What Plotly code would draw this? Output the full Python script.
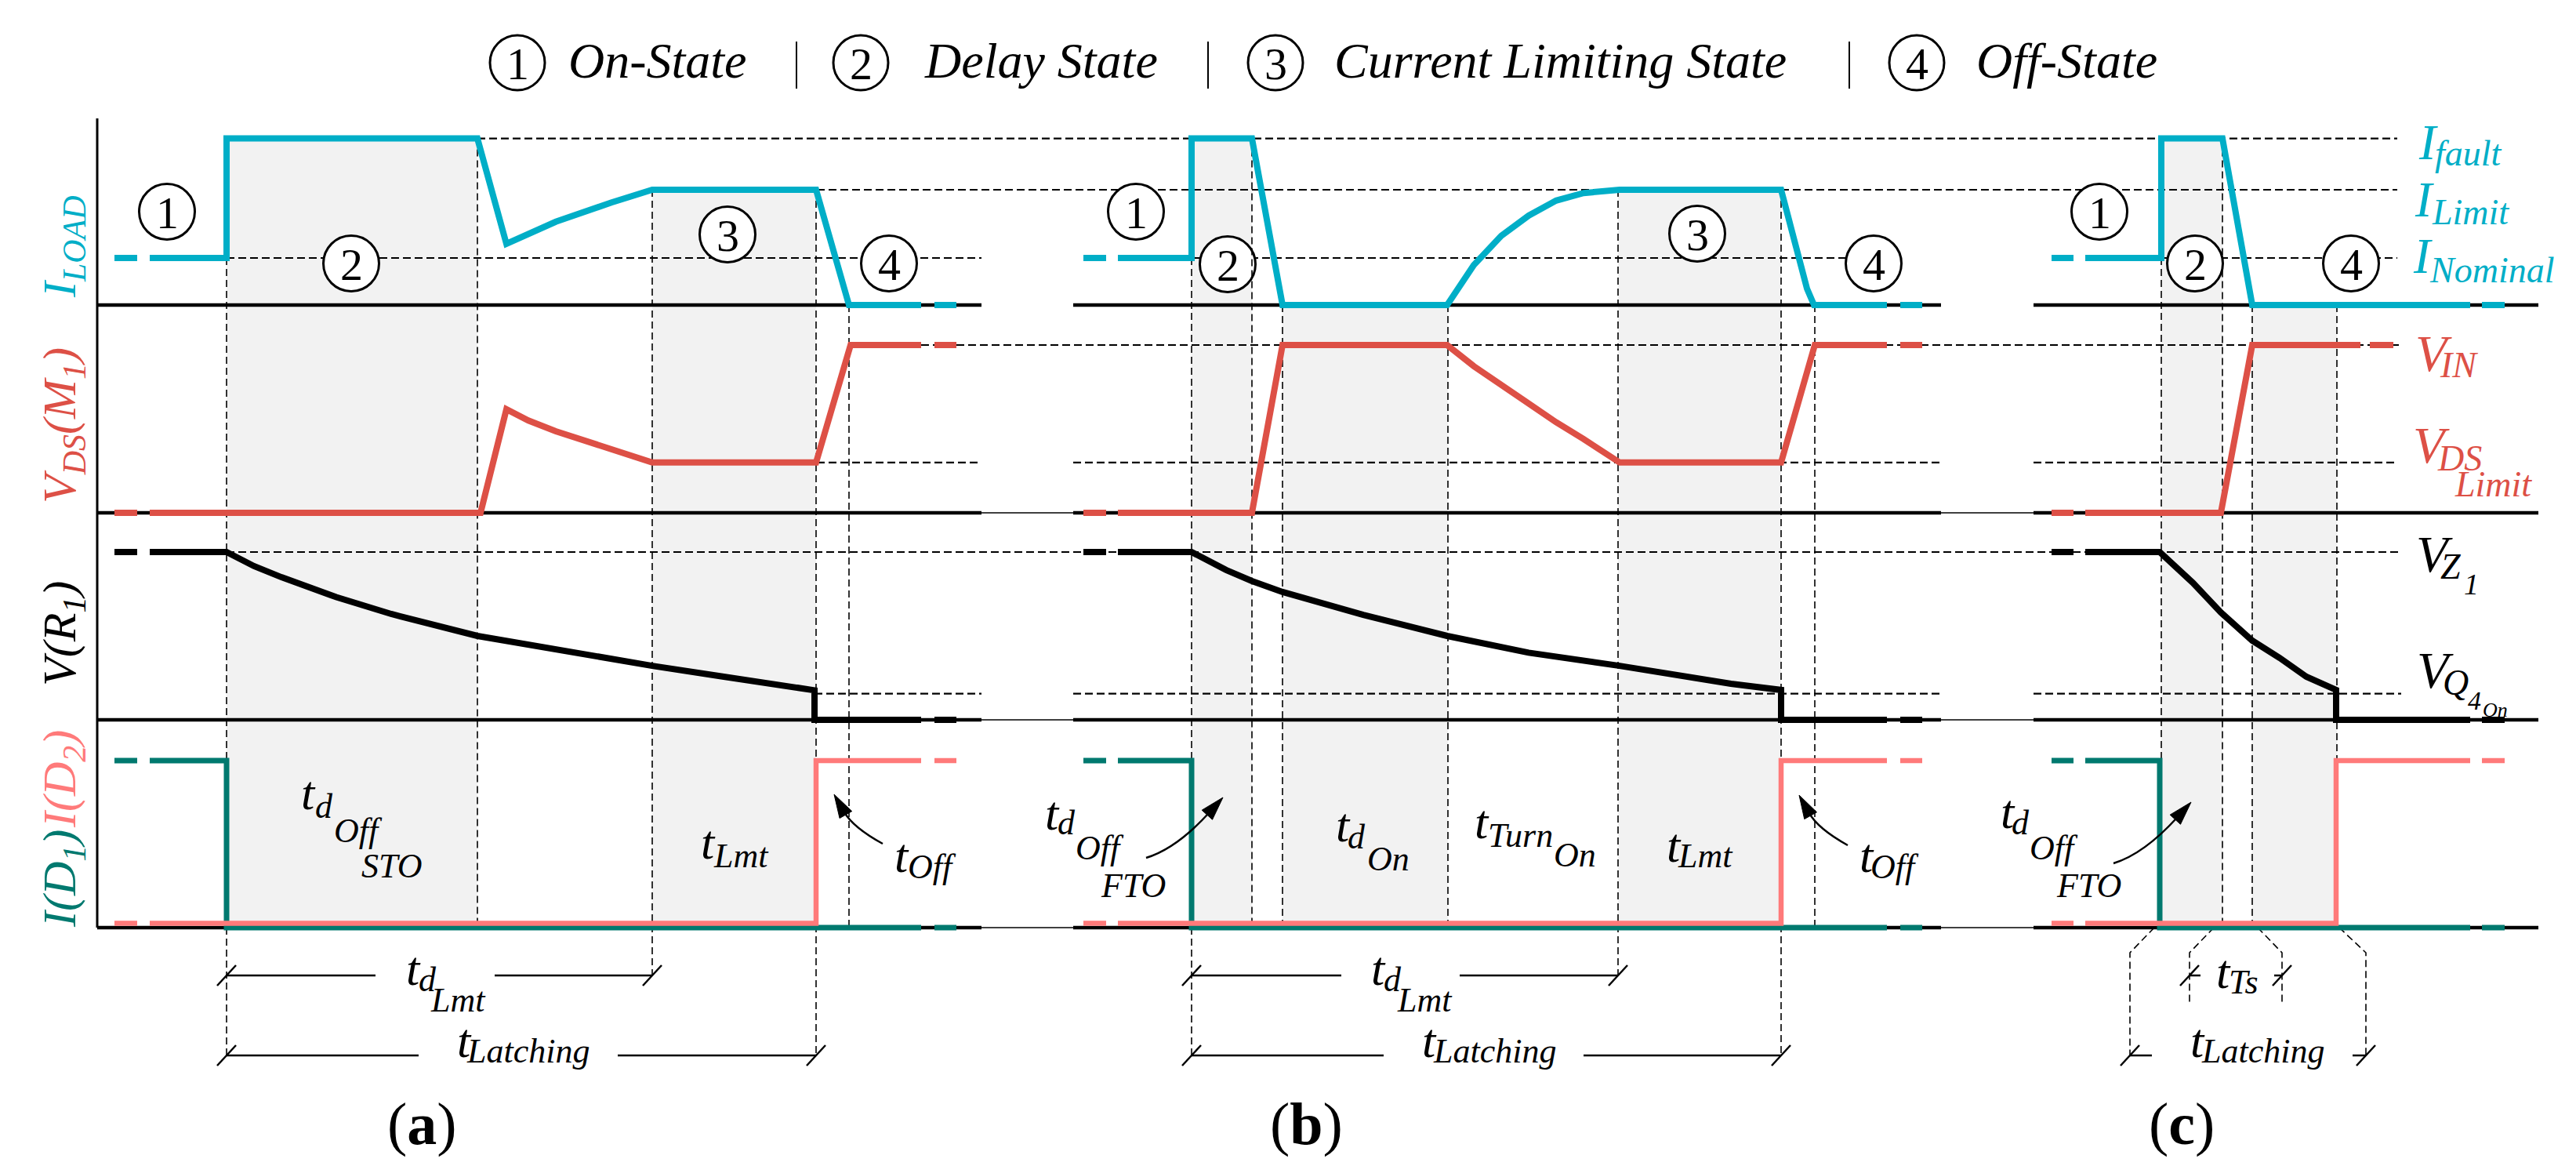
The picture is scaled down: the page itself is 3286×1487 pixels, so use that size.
import math
import plotly.graph_objects as go

# ---------------------------------------------------------------- data ----
# signal levels (normalised units, one scale per row)
I_NOMINAL = 1.0
I_LIMIT = 2.45
I_FAULT = 3.54
V_IN = 1.0
V_DS_LIMIT = 0.30
V_Z1 = 1.0
V_Q4_ON = 0.156
I_D_HIGH = 1.0
I_D2_LOW = 0.026

# event times (time axis units)
A_STEP, A_FALL, A_LIMIT, A_OFF, A_ZERO = 281, 601, 824, 1033, 1075
B_STEP, B_FALL, B_ZERO, B_TURNON, B_LIMIT, B_OFF, B_ZERO2 = 1512, 1589, 1628, 1839, 2056, 2264, 2307
C_STEP, C_FALL, C_ZERO, C_OFF = 2749, 2827, 2865, 2973

# I_LOAD
ILOAD_A_T = [138, 167, None, 183, 281, 281, 601, 638, 670, 701, 772, 824, 1033, 1052, 1066, 1075, 1167, None, 1184, 1212]
ILOAD_A_V = [1, 1, None, 1, 1, 3.54, 3.54, 1.30, 1.55, 1.77, 2.18, 2.45, 2.45, 1.35, 0.52, 0, 0, None, 0, 0]
ILOAD_B_T = [1374, 1403, None, 1418, 1512, 1512, 1589, 1628, 1838, 1872, 1907, 1942, 1977, 2012, 2058, 2264, 2276, 2287, 2297, 2306, 2399, None, 2416, 2444]
ILOAD_B_V = [1, 1, None, 1, 1, 3.54, 3.54, 0, 0, 0.85, 1.47, 1.90, 2.22, 2.38, 2.45, 2.45, 1.73, 1.02, 0.35, 0, 0, None, 0, 0]
ILOAD_C_T = [2609, 2637, None, 2652, 2749, 2749, 2827, 2865, 3143, None, 3158, 3187]
ILOAD_C_V = [1, 1, None, 1, 1, 3.54, 3.54, 0, 0, None, 0, 0]

# V_DS(M1)
VDS_A_T = [138, 167, None, 183, 605, 638, 666, 701, 772, 824, 1033, 1077, 1167, None, 1184, 1212]
VDS_A_V = [0, 0, None, 0, 0, 0.617, 0.55, 0.486, 0.374, 0.30, 0.30, 1, 1, None, 1, 1]
VDS_B_T = [1374, 1403, None, 1418, 1589, 1628, 1838, 1872, 1907, 1942, 1977, 2012, 2058, 2264, 2307, 2399, None, 2416, 2444]
VDS_B_V = [0, 0, None, 0, 0, 1, 1, 0.874, 0.76, 0.65, 0.54, 0.44, 0.30, 0.30, 1, 1, None, 1, 1]
VDS_C_T = [2609, 2637, None, 2652, 2825, 2865, 3003, None, 3015, 3045]
VDS_C_V = [0, 0, None, 0, 0, 1, 1, None, 1, 1]

# V(R1)
VR1_A_T = [138, 167, None, 183, 281, 316, 351, 421, 491, 601, 701, 824, 912, 1031, 1031, 1167, None, 1184, 1212]
VR1_A_V = [1, 1, None, 1, 1, 0.916, 0.850, 0.731, 0.631, 0.500, 0.416, 0.322, 0.259, 0.176, 0, 0, None, 0, 0]
VR1_B_T = [1374, 1403, None, 1418, 1512, 1556, 1589, 1628, 1731, 1838, 1942, 2058, 2200, 2264, 2264, 2399, None, 2416, 2444]
VR1_B_V = [1, 1, None, 1, 1, 0.893, 0.827, 0.762, 0.626, 0.50, 0.40, 0.322, 0.215, 0.178, 0, 0, None, 0, 0]
VR1_C_T = [2609, 2637, None, 2652, 2747, 2789, 2825, 2865, 2900, 2934, 2972, 2972, 3143, None, 3158, 3187]
VR1_C_V = [1, 1, None, 1, 1, 0.818, 0.640, 0.472, 0.369, 0.257, 0.178, 0, 0, None, 0, 0]

# I(D1) and I(D2)
D1_A_T = [138, 167, None, 183, 281, 281, 1167, None, 1184, 1212]
D1_A_V = [1, 1, None, 1, 1, 0, 0, None, 0, 0]
D2_A_T = [138, 167, None, 183, 1033, 1033, 1167, None, 1184, 1212]
D2_A_V = [0.026, 0.026, None, 0.026, 0.026, 1, 1, None, 1, 1]
D1_B_T = [1374, 1403, None, 1418, 1512, 1512, 2399, None, 2416, 2444]
D1_B_V = [1, 1, None, 1, 1, 0, 0, None, 0, 0]
D2_B_T = [1374, 1403, None, 1418, 2264, 2264, 2399, None, 2416, 2444]
D2_B_V = [0.026, 0.026, None, 0.026, 0.026, 1, 1, None, 1, 1]
D1_C_T = [2609, 2637, None, 2652, 2747, 2747, 3143, None, 3158, 3187]
D1_C_V = [1, 1, None, 1, 1, 0, 0, None, 0, 0]
D2_C_T = [2609, 2637, None, 2652, 2972, 2972, 3143, None, 3158, 3187]
D2_C_V = [0.026, 0.026, None, 0.026, 0.026, 1, 1, None, 1, 1]

TITLE_ITEMS = ["On-State", "Delay State", "Current Limiting State", "Off-State"]
PANEL_LABELS = ["a", "b", "c"]

# ------------------------------------------------------------- layout ----
W, H = 3286, 1487
FONT = "Liberation Serif"
CYAN, RED, TEAL, PINK, SHADE = "#00AEC7", "#DD5046", "#00796F", "#FF7A7A", "#F2F2F2"
ROW_BASE = {1: 381, 2: 646, 3: 910, 4: 1175}
ROW_SCALE = {1: 60, 2: 214, 3: 214, 4: 213}


def px(row, v):
    return ROW_BASE[row] - v * ROW_SCALE[row]


def yname(row):
    return "y" if row == 1 else f"y{row}"


fig = go.Figure()


def add(t, v, row, color, width=8):
    fig.add_trace(go.Scatter(x=t, y=v, mode="lines", yaxis=yname(row),
                             line=dict(color=color, width=width),
                             hoverinfo="skip", showlegend=False))


for t, v in [(ILOAD_A_T, ILOAD_A_V), (ILOAD_B_T, ILOAD_B_V), (ILOAD_C_T, ILOAD_C_V)]:
    add(t, v, 1, CYAN)
for t, v in [(VDS_A_T, VDS_A_V), (VDS_B_T, VDS_B_V), (VDS_C_T, VDS_C_V)]:
    add(t, v, 2, RED)
for t, v in [(VR1_A_T, VR1_A_V), (VR1_B_T, VR1_B_V), (VR1_C_T, VR1_C_V)]:
    add(t, v, 3, "black")
for t, v in [(D1_A_T, D1_A_V), (D1_B_T, D1_B_V), (D1_C_T, D1_C_V)]:
    add(t, v, 4, TEAL, 7)
for t, v in [(D2_A_T, D2_A_V), (D2_B_T, D2_B_V), (D2_C_T, D2_C_V)]:
    add(t, v, 4, PINK, 6.5)
# invisible anchor for the layout (pixel) axis
fig.add_trace(go.Scatter(x=[0], y=[0], yaxis="y5", mode="markers",
                         marker=dict(opacity=0), hoverinfo="skip", showlegend=False))

shapes = []
ann = []


def line(x0, y0, x1, y1, width=2.5, color="black", dash=None, yref="y5", layer="below"):
    d = dict(type="line", x0=x0, y0=y0, x1=x1, y1=y1, xref="x", yref=yref, layer=layer,
             line=dict(color=color, width=width))
    if dash:
        d["line"]["dash"] = dash
    shapes.append(d)


# shading
ROW4_BOT = px(4, 0)
for x0, x1, lvl in [(A_STEP, A_FALL, I_FAULT), (A_LIMIT, A_OFF, I_LIMIT),
                    (B_STEP, B_FALL, I_FAULT), (B_ZERO, B_TURNON, 0), (B_LIMIT, B_OFF, I_LIMIT),
                    (C_STEP, C_FALL, I_FAULT), (C_ZERO, C_OFF, 0)]:
    shapes.append(dict(type="rect", x0=x0, x1=x1, y0=px(1, lvl), y1=ROW4_BOT, xref="x", yref="y5",
                       layer="below", fillcolor=SHADE, line=dict(width=0)))

# horizontal reference levels
REF = [(1, I_FAULT, [(601, 3050)]), (1, I_LIMIT, [(824, 3050)]),
       (1, I_NOMINAL, [(281, 1244), (1512, 2349), (2749, 3050)]),
       (2, V_IN, [(1077, 3054)]),
       (2, V_DS_LIMIT, [(824, 1244), (1361, 2468), (2586, 3048)]),
       (3, V_Z1, [(281, 3055)]),
       (3, V_Q4_ON, [(1031, 1244), (1361, 2468), (2586, 3055)])]
for row, lvl, segs in REF:
    for a, b in segs:
        line(a, lvl, b, lvl, width=2.2, dash="10px,5px", yref=yname(row))

# baselines and left axis
PANELS = [(116, 1244), (1361, 2468), (2586, 3230)]
for row in (2, 3, 4):
    line(116, ROW_BASE[row], 3230, ROW_BASE[row], width=1.5)
for row in (1, 2, 3, 4):
    for a, b in PANELS:
        line(a, ROW_BASE[row], b, ROW_BASE[row], width=4.5)
line(116, 143, 116, ROW4_BOT, width=3)


def circle(cx, cy, digit, r=35.5, size=58):
    shapes.append(dict(type="circle", x0=cx - r, x1=cx + r, y0=cy - r, y1=cy + r, xref="x", yref="y5",
                       layer="below", fillcolor="white", line=dict(color="black", width=3)))
    ann.append(dict(x=cx, y=cy + 1, xref="x", yref="y5", text=digit, showarrow=False,
                    xanchor="center", yanchor="middle", font=dict(family=FONT, size=size, color="black")))


for cx, cy, dg in [(205, 262, "1"), (440, 328, "2"), (920, 291, "3"), (1126, 328, "4"),
                   (1441, 262, "1"), (1558, 329, "2"), (2157, 290, "3"), (2382, 328, "4"),
                   (2670, 262, "1"), (2792, 328, "2"), (2991, 328, "4")]:
    circle(cx, cy, dg)

# vertical event guides
LATCH_Y, DLMT_Y = 1338, 1236
GUIDES = [(A_STEP, px(1, I_NOMINAL), LATCH_Y), (A_FALL, px(1, I_FAULT), ROW4_BOT),
          (A_LIMIT, px(1, I_LIMIT), DLMT_Y), (A_OFF, px(1, I_LIMIT), LATCH_Y), (A_ZERO, px(1, 0), ROW4_BOT),
          (B_STEP, px(1, I_NOMINAL), LATCH_Y), (B_FALL, px(1, I_FAULT), ROW4_BOT),
          (B_ZERO, px(1, 0), ROW4_BOT), (B_TURNON, px(1, 0), ROW4_BOT),
          (B_LIMIT, px(1, I_LIMIT), DLMT_Y), (B_OFF, px(1, I_LIMIT), LATCH_Y), (B_ZERO2, px(1, 0), ROW4_BOT),
          (C_STEP, px(1, I_NOMINAL), ROW4_BOT), (C_FALL, px(1, I_FAULT), ROW4_BOT),
          (C_ZERO, px(1, 0), ROW4_BOT), (C_OFF, px(1, 0), ROW4_BOT)]
for x, y0, y1 in GUIDES:
    line(x, y0, x, y1, width=1.6, dash="9px,5px")

# leaders in panel (c)
for pts in [[(2740, 1175), (2709, 1207), (2709, 1338)], [(2816, 1175), (2785, 1207), (2785, 1272)],
            [(2872, 1175), (2903, 1207), (2903, 1272)], [(2976, 1175), (3010, 1207), (3010, 1338)]]:
    path = "M " + " L ".join(f"{a},{b}" for a, b in pts)
    shapes.append(dict(type="path", path=path, xref="x", yref="y5", layer="below",
                       line=dict(color="black", width=1.6, dash="9px,5px")))


# dimension lines
def tick(x, y):
    line(x - 12, y + 13, x + 12, y - 13, width=2.5, layer="above")


for y, x0, x1, g0, g1 in [(DLMT_Y, 281, 824, 471, 623), (LATCH_Y, 281, 1033, 526, 780),
                          (DLMT_Y, 1512, 2056, 1703, 1854), (LATCH_Y, 1512, 2264, 1757, 2012),
                          (DLMT_Y, 2785, 2903, 2799, 2893), (LATCH_Y, 2709, 3010, 2737, 2993)]:
    line(x0, y, g0, y, width=2.5)
    line(g1, y, x1, y, width=2.5)
    tick(x0, y)
    tick(x1, y)


# curved arrows
def arrow(p0, c, p1, L=30, hw=9):
    dx, dy = p1[0] - c[0], p1[1] - c[1]
    n = math.hypot(dx, dy)
    ux, uy = dx / n, dy / n
    bx, by = p1[0] - ux * L, p1[1] - uy * L
    shapes.append(dict(type="path", path=f"M {p0[0]},{p0[1]} Q {c[0]},{c[1]} {bx + ux * 4},{by + uy * 4}",
                       xref="x", yref="y5", layer="above", line=dict(color="black", width=2.5)))
    tri = f"M {p1[0]},{p1[1]} L {bx - uy * hw},{by + ux * hw} L {bx + uy * hw},{by - ux * hw} Z"
    shapes.append(dict(type="path", path=tri, xref="x", yref="y5", layer="above",
                       fillcolor="black", line=dict(color="black", width=1)))


arrow((1118, 1068), (1080, 1047), (1056, 1005))
arrow((2349, 1070), (2311, 1049), (2287, 1006))
arrow((1454, 1086), (1493, 1074), (1552, 1009))
arrow((2688, 1093), (2727, 1081), (2787, 1015))


# text helper (placed by baseline)
def T(s, x, base, size, color="black", italic=True, anchor="left"):
    ann.append(dict(x=x, y=base - 0.34 * size, xref="x", yref="y5",
                    text=f"<i>{s}</i>" if italic else s, showarrow=False, xanchor=anchor,
                    yanchor="middle", borderpad=0, font=dict(family=FONT, size=size, color=color)))


# title legend
for (cx, dg), txt, tx in zip([(652, "1"), (1090, "2"), (1619, "3"), (2437, "4")], TITLE_ITEMS,
                             [716, 1170, 1693, 2512]):
    shapes.append(dict(type="circle", x0=cx - 35, x1=cx + 35, y0=37, y1=107, xref="x", yref="y5",
                       layer="below", fillcolor="white", line=dict(color="black", width=3)))
    ann.append(dict(x=cx, y=73, xref="x", yref="y5", text=dg, showarrow=False, xanchor="center",
                    yanchor="middle", font=dict(family=FONT, size=58, color="black")))
    T(txt, tx, 91.5, 64)
for x in (1008, 1533, 2351):
    line(x, 45, x, 105, width=2)

# right-hand level labels
T("I", 3076, 195, 64, CYAN); T("fault", 3097, 203, 46, CYAN)
T("I", 3071, 268, 64, CYAN); T("Limit", 3093, 278, 46, CYAN)
T("I", 3069, 340, 64, CYAN); T("Nominal", 3090, 352, 46, CYAN)
T("V", 3072, 465, 66, RED); T("IN", 3103, 473, 46, RED)
T("V", 3069, 582, 66, RED); T("DS", 3100, 592, 46, RED); T("Limit", 3122, 625, 46, RED)
T("V", 3073, 721, 66); T("Z", 3104, 730, 46); T("1", 3134, 750, 38)
T("V", 3074, 869, 66); T("Q", 3107, 878, 46); T("4", 3139, 897, 34); T("On", 3158, 906, 26)

# left rotated labels
for s, y, col in [("I<sub>LOAD</sub>", 307, CYAN), ("V<sub>DS</sub>(M<sub>1</sub>)", 535, RED),
                  ("V(R<sub>1</sub>)", 800, "black"), ("I(D<sub>1</sub>)", 1113, TEAL),
                  ("I(D<sub>2</sub>)", 986, PINK)]:
    ann.append(dict(x=72, y=y, xref="x", yref="y5", text=f"<i>{s}</i>", showarrow=False,
                    textangle=-90, xanchor="center", yanchor="middle",
                    font=dict(family=FONT, size=60, color=col)))

# row 4 timing labels
T("t", 375, 1024, 62); T("d", 393, 1035, 44); T("Off", 417, 1066, 44); T("STO", 452, 1111, 44)
T("t", 885, 1087, 62); T("Lmt", 901, 1098, 44)
T("t", 1132, 1104, 62); T("Off", 1149, 1112, 44)
T("t", 1324, 1050, 62); T("d", 1340, 1056, 44); T("Off", 1363, 1088, 44); T("FTO", 1395, 1136, 44)
T("t", 1695, 1065, 62); T("d", 1710, 1074, 44); T("On", 1735, 1102, 44)
T("t", 1872, 1061, 62); T("Turn", 1889, 1072, 44); T("On", 1973, 1097, 44)
T("t", 2117, 1091, 62); T("Lmt", 2131, 1098, 44)
T("t", 2363, 1104, 62); T("Off", 2377, 1112, 44)
T("t", 2543, 1048, 62); T("d", 2557, 1056, 44); T("Off", 2580, 1088, 44); T("FTO", 2614, 1136, 44)

# dimension labels
T("t", 509, 1248, 62); T("d", 525, 1256, 44); T("Lmt", 540, 1282, 44)
T("t", 574, 1340, 62); T("Latching", 586, 1347, 44)
T("t", 1740, 1248, 62); T("d", 1756, 1256, 44); T("Lmt", 1773, 1282, 44)
T("t", 1805, 1340, 62); T("Latching", 1819, 1347, 44)
T("t", 2818, 1252, 62); T("Ts", 2834, 1259, 44)
T("t", 2785, 1340, 62); T("Latching", 2799, 1347, 44)

# panel labels
for lab, cx in zip(PANEL_LABELS, [530, 1658, 2775]):
    ann.append(dict(x=cx, y=1425, xref="x", yref="y5", text=f"(<b>{lab}</b>)", showarrow=False,
                    xanchor="center", yanchor="middle", font=dict(family=FONT, size=76, color="black")))


def yax(row):
    d = dict(range=[(ROW_BASE[row] - H) / ROW_SCALE[row], ROW_BASE[row] / ROW_SCALE[row]],
             visible=False, domain=[0, 1], fixedrange=True)
    if row != 1:
        d["overlaying"] = "y"
    return d


fig.update_layout(
    width=W, height=H, autosize=False, margin=dict(l=0, r=0, t=0, b=0, pad=0),
    paper_bgcolor="white", plot_bgcolor="white", showlegend=False,
    xaxis=dict(range=[0, W], visible=False, domain=[0, 1], fixedrange=True),
    yaxis=yax(1), yaxis2=yax(2), yaxis3=yax(3), yaxis4=yax(4),
    yaxis5=dict(range=[H, 0], visible=False, domain=[0, 1], overlaying="y", fixedrange=True),
    shapes=shapes, annotations=ann,
)
fig.write_html("out.html", config={"displayModeBar": False})
